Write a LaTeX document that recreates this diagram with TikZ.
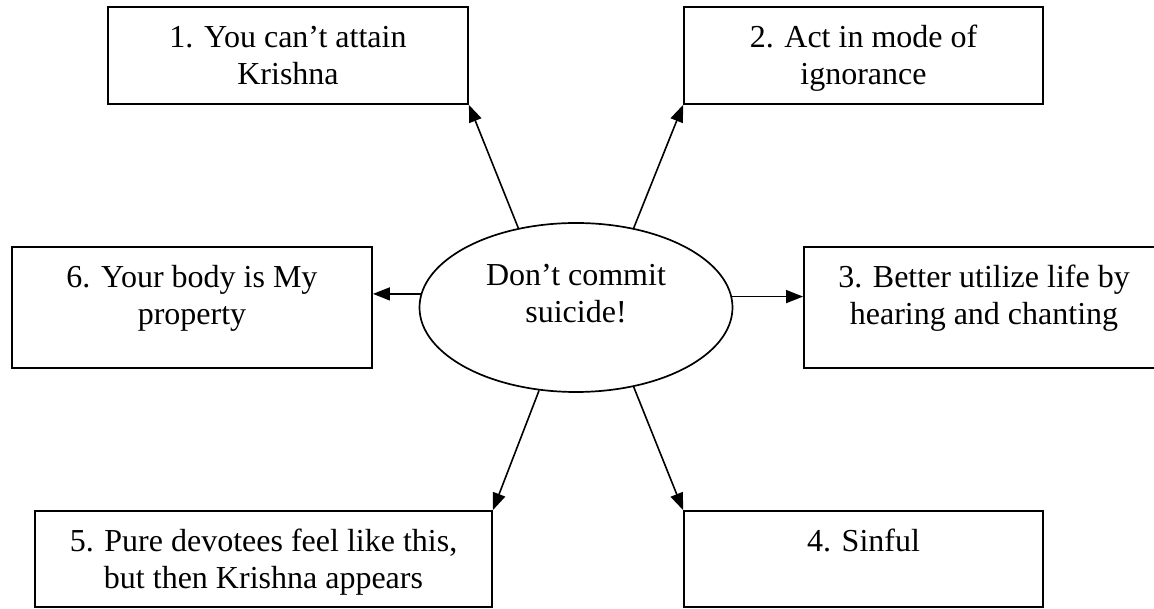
\documentclass[tikz,border=0pt]{standalone}
\usepackage{fontspec}
\setmainfont{Liberation Serif}
\usetikzlibrary{shapes.geometric,arrows.meta}
\begin{document}
\begin{tikzpicture}[x=1pt,y=1pt,
  box/.style={draw, line width=1.9pt, rectangle, inner sep=0pt},
  hub/.style={draw, ellipse, line width=1.7pt, inner sep=0pt,
              minimum width=313pt, minimum height=169pt},
  lbl/.style={font=\fontsize{32}{37}\selectfont, align=center,
              inner sep=0pt, anchor=base},
  arr/.style={line width=1.6pt, -{Triangle[length=17pt,width=13pt]}}]
\useasboundingbox (0,0) rectangle (1154,608);

% central idea (anchor base sits on the last line)
\node[hub] (e) at (576,300.5) {};
\node[lbl] (te) at ([yshift=-15.5pt]e.center) {Don’t commit\\suicide!};

% surrounding boxes
\node[box, minimum width=360pt, minimum height=97pt] (b1) at (288,552.5) {};
\node[box, minimum width=359pt, minimum height=97pt] (b2) at (863.5,552.5) {};
\node[box, minimum width=360pt, minimum height=121pt] (b6) at (192,300.5) {};
\node[box, minimum width=360pt, minimum height=121pt] (b3) at (984,300.5) {};
\node[box, minimum width=457pt, minimum height=96pt] (b5) at (263.5,49) {};
\node[box, minimum width=359pt, minimum height=96pt] (b4) at (863.5,49) {};

% box texts: first baseline 41pt below the top edge, lines 37pt apart
\node[lbl] (t1) at ([yshift=-78pt]b1.north) {1. You can’t attain\\Krishna};
\node[lbl] (t2) at ([yshift=-78pt]b2.north) {2. Act in mode of\\ignorance};
\node[lbl] (t6) at ([yshift=-78pt]b6.north) {6. Your body is My\\property};
\node[lbl] (t3) at ([yshift=-78pt]b3.north) {3. Better utilize life by\\hearing and chanting};
\node[lbl] (t5) at ([yshift=-78pt]b5.north) {5. Pure devotees feel like this,\\but then Krishna appears};
\node[lbl] (t4) at ([yshift=-41pt]b4.north) {4. Sinful};

% connectors
\draw[arr] (e.126) -- (b1.south east);
\draw[arr] (e.54) -- (b2.south west);
\draw[arr] (e.175.4) -- (e.175.4 -| b6.east);
\draw[arr] (e.4.6) -- (e.4.6 -| b3.west);
\draw[arr] (e.246.4) -- (b5.north east);
\draw[arr] (e.306.7) -- (b4.north west);
\end{tikzpicture}
\end{document}
